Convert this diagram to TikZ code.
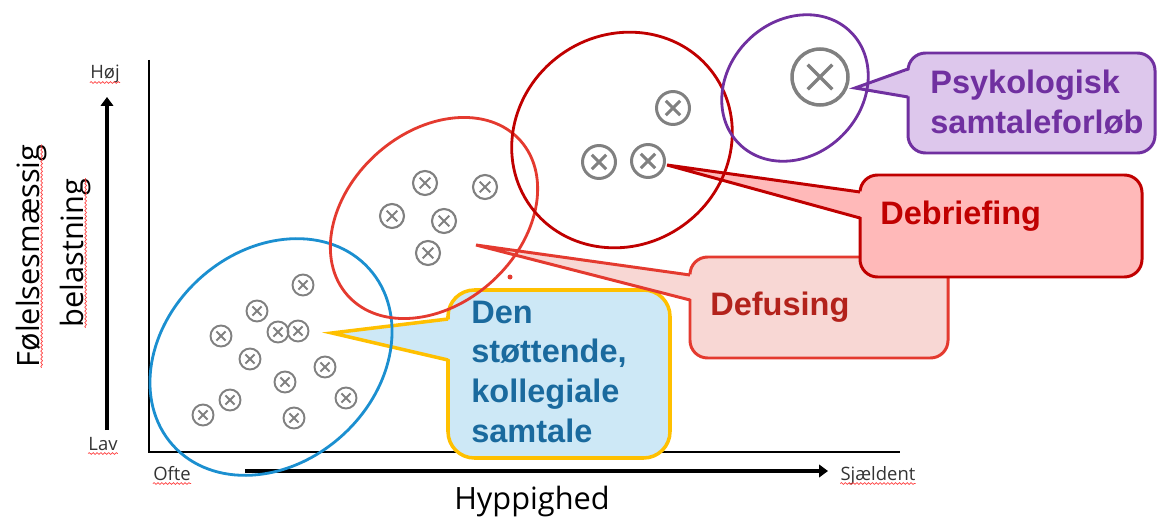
\documentclass[tikz,border=0pt]{standalone}
\usepackage{fontspec}
\usetikzlibrary{arrows.meta}
\usetikzlibrary{decorations.pathmorphing}
\newfontfamily\calloutfont{Liberation Sans}
\newfontfamily\axisfont{Open Sans}

\definecolor{markgray}{HTML}{808080}
\definecolor{stottline}{HTML}{1B8FD0}
\definecolor{stottfill}{HTML}{CDE8F6}
\definecolor{stottedge}{HTML}{FFC000}
\definecolor{stotttext}{HTML}{1A6A9E}
\definecolor{defline}{HTML}{E43A2F}
\definecolor{deffill}{HTML}{F8D7D4}
\definecolor{deftext}{HTML}{B3221B}
\definecolor{debline}{HTML}{C00000}
\definecolor{debfill}{HTML}{FFB9B9}
\definecolor{psyline}{HTML}{7030A0}
\definecolor{psyfill}{HTML}{DDC7EC}
\newcommand{\spell}{red!75!white}

\begin{document}
\begin{tikzpicture}[x=0.02cm, y=-0.02cm,
  xmark/.style 2 args={circle, draw=markgray, line width=#2, minimum size=#1,
    inner sep=0pt, path picture={\draw[markgray, line width=#2]
      (path picture bounding box.center) +(45:0.31*#1) -- +(225:0.31*#1)
      (path picture bounding box.center) +(135:0.31*#1) -- +(-45:0.31*#1);}},
  lowx/.style={xmark={0.42cm}{1.1pt}},
  midx/.style={xmark={0.48cm}{1.2pt}},
  highx/.style={xmark={0.66cm}{1.7pt}},
  topx/.style={xmark={1.12cm}{2pt}},
  ring/.style={line width=1.6pt},
  bubble/.style={line width=1.7pt, rounded corners=10pt},
  calltext/.style={font=\calloutfont\fontsize{18.5}{22.5}\selectfont\bfseries,
    align=left, anchor=base west, inner sep=0pt},
  ticklabel/.style={font=\axisfont\fontsize{10.5}{12}\selectfont,
    text=black!80, inner sep=0pt, anchor=base},
  axislabel/.style={font=\axisfont\fontsize{17.5}{21}\selectfont,
    inner sep=0pt, anchor=base},
  wavy/.style={draw=\spell, line width=0.4pt, decorate,
    decoration={snake, amplitude=0.5pt, segment length=2.2pt}},
  thickarrow/.style={line width=2.4pt, -{Triangle[length=5pt, width=7pt]}},
]
\useasboundingbox (0,0) rectangle (1157,517);

% axes
\coordinate (ytop) at (149,60);
\coordinate (origin) at (149,452);
\coordinate (xend) at (900,452);
\draw[line width=1.6pt] (ytop) -- (origin) -- (xend);

\coordinate (lowstart) at (107,430);
\coordinate (highend) at (107,97);
\draw[thickarrow] (lowstart) -- (highend);
\coordinate (oftestart) at (245,471);
\coordinate (sjaeldend) at (828,471);
\draw[thickarrow] (oftestart) -- (sjaeldend);

% callouts
% den stoettende, kollegiale samtale
\filldraw[bubble, fill=stottfill, draw=stottedge, line width=2pt,
    rounded corners=15pt] (448,290) rectangle (670,458);
\coordinate (stotttip) at (332,333);
\coordinate (stotta) at (448,319);
\coordinate (stottb) at (448,360);
\fill[stottfill] (stotttip) -- ([xshift=3pt]stotta) --
    ([xshift=3pt]stottb) -- cycle;
\draw[stottedge, line width=2pt] (stotta) -- (stotttip) -- (stottb);

% defusing
\filldraw[bubble, fill=deffill, draw=defline] (690,257) rectangle (948,358);
\coordinate (deftip) at (476,245);
\coordinate (defa) at (690,275);
\coordinate (defb) at (690,300);
\fill[deffill] (deftip) -- ([xshift=3pt]defa) -- ([xshift=3pt]defb) -- cycle;
\draw[defline, line width=1.7pt] (defa) -- (deftip) -- (defb);

% debriefing
\filldraw[bubble, fill=debfill, draw=debline] (860,175) rectangle (1142,277);
\coordinate (debtip) at (667,165);
\coordinate (deba) at (860,192);
\coordinate (debb) at (860,218);
\fill[debfill] (debtip) -- ([xshift=3pt]deba) -- ([xshift=3pt]debb) -- cycle;
\draw[debline, line width=1.7pt] (deba) -- (debtip) -- (debb);

% psykologisk samtaleforloeb
\filldraw[bubble, fill=psyfill, draw=psyline] (908,53) rectangle (1155,153);
\coordinate (psytip) at (855,88);
\coordinate (psya) at (908,69);
\coordinate (psyb) at (908,97);
\fill[psyfill] (psytip) -- ([xshift=3pt]psya) -- ([xshift=3pt]psyb) -- cycle;
\draw[psyline, line width=1.7pt] (psya) -- (psytip) -- (psyb);

% groups
\draw[ring, stottline, rotate around={42:(271,357)}]
    (271,357) ellipse (132 and 106);
\draw[ring, defline, rotate around={42:(434,218)}]
    (434,218) ellipse (116 and 86);
\draw[ring, debline, rotate around={36:(622,140)}]
    (622,140) ellipse (113 and 105);
\draw[ring, psyline, rotate around={45:(795,88)}]
    (795,88) ellipse (79 and 67);
\fill[defline] (510,277) circle (2.5);

% events
\foreach \px/\py [count=\i] in {303/285, 257/311, 221/336, 278/332,
    298/331, 250/359, 325/367, 285/382, 230/400, 203/415, 346/398, 294/418}
    \node[lowx] (low\i) at (\px,\py) {};
\foreach \px/\py [count=\i] in {425/183, 485/187, 392/216, 444/221, 428/253}
    \node[midx] (mid\i) at (\px,\py) {};
\foreach \px/\py [count=\i] in {673/108, 599/162, 648/161}
    \node[highx] (high\i) at (\px,\py) {};
\node[topx] (top1) at (820,77) {};

% texts (base = last line)
\node[calltext, text=stotttext] (stotttxt) at (471,442)
    {Den\\støttende,\\kollegiale\\samtale};
\node[calltext, text=deftext] (deftxt) at (710,315) {Defusing};
\node[calltext, text=debline] (debtxt) at (880,224) {Debriefing};
\node[calltext, text=psyline] (psytxt) at (930,133)
    {Psykologisk\\samtaleforløb};

\node[ticklabel] (hoj) at (105,79) {Høj};
\node[ticklabel] (lav) at (103,450) {Lav};
\node[ticklabel] (ofte) at (172,480) {Ofte};
\node[ticklabel] (sjaeldent) at (878,480) {Sjældent};
\node[axislabel] (hyppighed) at (532,509) {Hyppighed};
\node[axislabel, rotate=90] (folelses) at (39,256) {Følelsesmæssig};
\node[axislabel, rotate=90] (belast) at (83,253) {belastning};

% spelling marks
\draw[wavy] ([yshift=-2pt]hoj.base west) -- ([yshift=-2pt]hoj.base east);
\draw[wavy] ([yshift=-2pt]lav.base west) -- ([yshift=-2pt]lav.base east);
\draw[wavy] ([yshift=-2pt]ofte.base west) -- ([yshift=-2pt]ofte.base east);
\draw[wavy] ([yshift=-2pt]sjaeldent.base west) --
    ([yshift=-2pt]sjaeldent.base east);
\draw[wavy] ([xshift=1.5pt]folelses.base west) --
    ([xshift=1.5pt]folelses.base east);
\draw[wavy] ([xshift=1.5pt]belast.base west) --
    ([xshift=1.5pt]belast.base east);

\end{tikzpicture}
\end{document}
